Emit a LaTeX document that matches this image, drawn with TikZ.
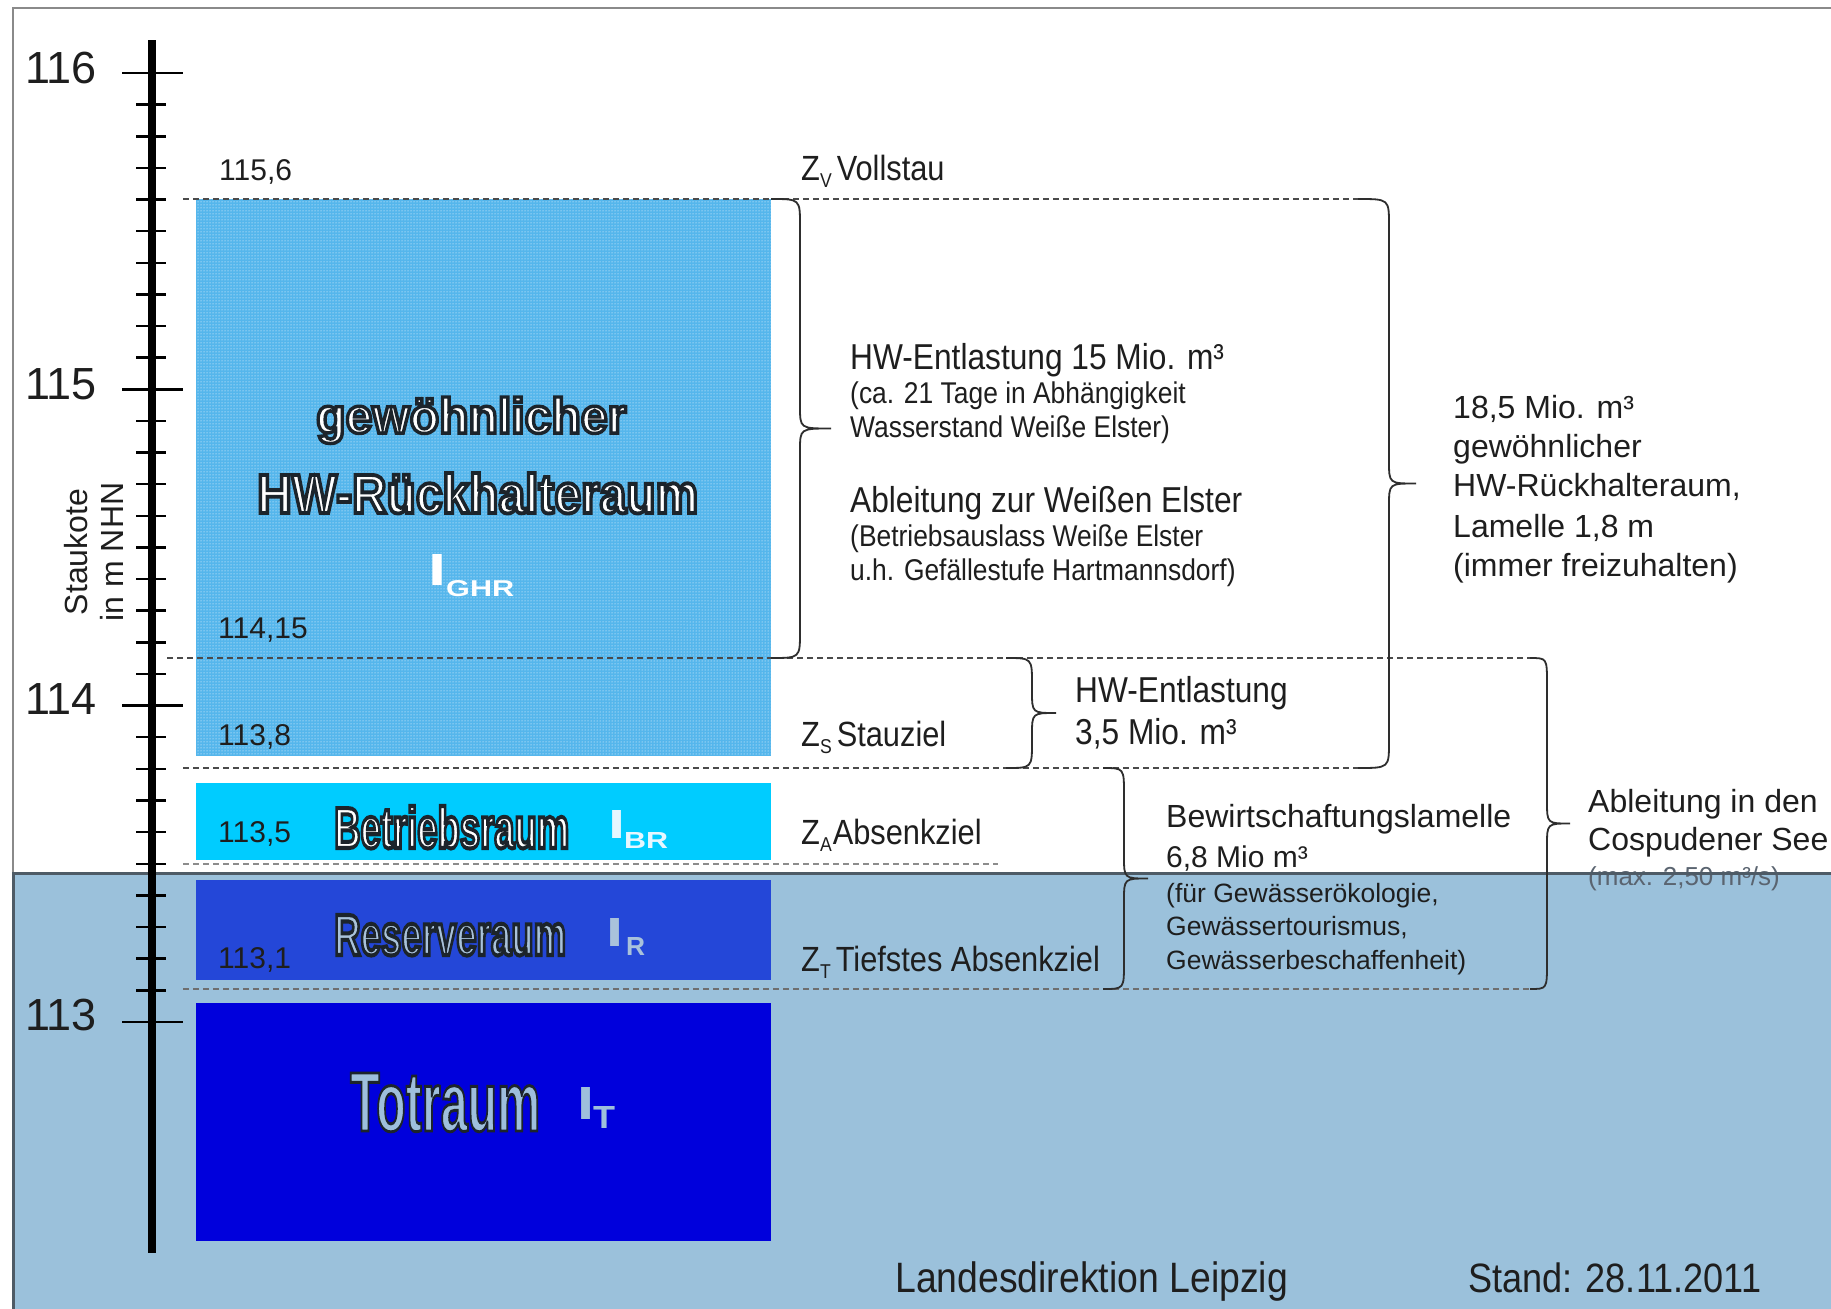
\documentclass[tikz,border=0pt]{standalone}
\usepackage{fontspec}
\setmainfont{Liberation Sans}
\newfontfamily\nar[FakeStretch=0.88]{Liberation Sans}
\newfontfamily\outf[FakeBold=7]{Liberation Sans}
\newfontfamily\outg[FakeBold=3.5]{Liberation Sans}
\usetikzlibrary{patterns}
\definecolor{txt}{HTML}{1E1E1E}
\definecolor{lowbg}{HTML}{9BC1DB}
\definecolor{lowedge}{HTML}{4E5B66}
\definecolor{framec}{HTML}{8A8A8A}
\definecolor{ghrc}{HTML}{55B6EC}
\definecolor{cBR}{HTML}{00CCFF}
\definecolor{cR}{HTML}{2447D8}
\definecolor{cT}{HTML}{0000DC}
\definecolor{pale}{HTML}{A9C2DB}
\definecolor{pale2}{HTML}{9EBFDC}
\definecolor{ibrc}{HTML}{E6F7FF}
\definecolor{dashc}{HTML}{4A4A4A}
\definecolor{dashl}{HTML}{8C8C8C}
\definecolor{bracec}{HTML}{2E2E2E}
\definecolor{maxc}{HTML}{5A6470}
\newcommand\fz[1]{\fontsize{#1}{#1}\selectfont}
% outlined label: fill colour from node text colour, stroke colour set by literal
\newcommand\olabel[4]{%
  \node[lab,text=#3] (#1) at (#2) {\special{pdf:literal direct 0.11 0.14 0.17 RG}#4};}
\newcommand\curlyb[5]{%
  \pgfmathsetmacro\ymid{(#4+#5)/2}
  \draw[bline] (#1,#4) .. controls (#2,#4) .. (#2,#4+26) -- (#2,\ymid-22)
    .. controls (#2,\ymid) .. (#3,\ymid) .. controls (#2,\ymid) .. (#2,\ymid+22)
    -- (#2,#5-26) .. controls (#2,#5) .. (#1,#5);}
\begin{document}
\begin{tikzpicture}[x=1pt,y=-1pt,
  tx/.style={inner sep=0pt, anchor=base west, text=txt},
  nr/.style={tx, font=\nar\fz{#1}},
  rg/.style={tx, font=\fz{#1}},
  lab/.style={inner sep=0pt, anchor=base west},
  dl/.style={dash pattern=on 6pt off 4pt, line width=1.8pt, draw=dashc},
  dll/.style={dl, draw=dashl},
  bline/.style={draw=bracec, line width=1.8pt},
  major/.style={line width=2.5pt, draw=black},
  minor/.style={line width=2.5pt, draw=black}]
\useasboundingbox (0,0) rectangle (1831,1309);
\fill[white] (0,0) rectangle (1831,1309);
% frame
\draw[framec, line width=1.5pt] (13,873) -- (13,8) -- (1831,8);
% lower region
\fill[lowbg] (13,873) rectangle (1831,1309);
\draw[lowedge, line width=3pt] (1831,873) -- (13,873) -- (13,1309);
% storage boxes
\fill[ghrc] (196,199) rectangle (771,756);
\fill[pattern=dots, pattern color=white] (196,199) rectangle (771,756);
\fill[cBR] (196,783) rectangle (771,860);
\fill[cR] (196,880) rectangle (771,980);
\fill[cT] (196,1003) rectangle (771,1241);
% axis
\draw[line width=8pt] (152,40) -- (152,1253);
\foreach \i in {0,...,30} {
  \pgfmathsetmacro\yy{73+\i*31.63}
  \draw[minor] (136,\yy) -- (166,\yy);
}
\foreach \i in {0,10,20,30} {
  \pgfmathsetmacro\yy{73+\i*31.63}
  \draw[major] (122,\yy) -- (183,\yy);
}
\node[rg=45] (n116) at (25,83) {116};
\node[rg=45] (n115) at (25,399) {115};
\node[rg=45] (n114) at (25,714) {114};
\node[rg=45] (n113) at (25,1030) {113};
\node[inner sep=0pt, text=txt, font=\fontsize{32}{36}\selectfont, align=center, rotate=90] (stk) at (94,552) {Staukote\\in m NHN};
% level lines
\draw[dl] (183,199) -- (1360,199);
\draw[dl] (167,658) -- (1530,658);
\draw[dl] (183,768) -- (1360,768);
\draw[dll] (183,864) -- (998,864);
\draw[dl, draw=dashc!80] (183,989) -- (1530,989);
% braces
\curlyb{771}{800}{831}{199}{658}
\curlyb{1358}{1389}{1416}{199}{768}
\curlyb{1006}{1032}{1056}{658}{768}
\curlyb{1103}{1124}{1148}{768}{989}
\curlyb{1530}{1547}{1570}{658}{989}
% level numbers
\node[rg=30] (v1156) at (219,180) {115,6};
\node[rg=30] (v11415) at (218,638) {114,15};
\node[rg=30] (v1138) at (218,745) {113,8};
\node[rg=30] (v1135) at (218,842) {113,5};
\node[rg=30] (v1131) at (218,968) {113,1};
% box labels
\olabel{gew}{316,433}{white}{\resizebox{310pt}{36pt}{\outf\bfseries gewöhnlicher}}
\olabel{hwr}{257,513}{white}{\resizebox{441pt}{40pt}{\outf\bfseries HW-Rückhalteraum}}
\olabel{bet}{334,848}{white}{\resizebox{235pt}{42pt}{\outf\bfseries Betriebsraum}}
\olabel{res}{334,955}{pale}{\resizebox{232pt}{40pt}{\outf\bfseries Reserveraum}}
\olabel{tot}{350,1131}{pale2}{\resizebox{190pt}{58pt}{\outg\bfseries Totraum}}
\node[lab,text=white] (igh) at (428,585) {\resizebox{18pt}{31pt}{\bfseries I}};
\node[lab,text=white] (ighs) at (446,596) {\resizebox{68pt}{16pt}{\bfseries GHR}};
\node[lab,text=ibrc] (ibr) at (608,838) {\resizebox{17pt}{28pt}{\bfseries I}};
\node[lab,text=ibrc] (ibrs) at (624,848) {\resizebox{44pt}{16pt}{\bfseries BR}};
\node[lab,text=pale] (ir) at (606,946) {\resizebox{17pt}{28pt}{\bfseries I}};
\node[lab,text=pale] (irs) at (626,955) {\resizebox{19pt}{18pt}{\bfseries R}};
\node[lab,text=pale2] (it) at (577,1119) {\resizebox{17pt}{32pt}{\bfseries I}};
\node[lab,text=pale2] (its) at (593,1128) {\resizebox{22pt}{22pt}{\bfseries T}};
% right-hand texts
\node[nr=35] (zv) at (801,180) {Z\raisebox{-7pt}{\fz{20}V}\hspace{5pt}Vollstau};
\node[nr=36] (hw15) at (850,369) {HW-Entlastung 15 Mio. m³};
\node[nr=30] (ca21) at (850,403) {(ca. 21 Tage in Abhängigkeit};
\node[nr=30] (wass) at (850,437) {Wasserstand Weiße Elster)};
\node[nr=36] (abl) at (850,512) {Ableitung zur Weißen Elster};
\node[nr=30] (betr) at (850,546) {(Betriebsauslass Weiße Elster};
\node[nr=30] (uh) at (850,580) {u.h. Gefällestufe Hartmannsdorf)};
\node[rg=32] (r1) at (1453,418) {18,5 Mio. m³};
\node[rg=32] (r2) at (1453,457) {gewöhnlicher};
\node[rg=32] (r3) at (1453,496) {HW-Rückhalteraum,};
\node[rg=32] (r4) at (1453,537) {Lamelle 1,8 m};
\node[rg=32] (r5) at (1453,576) {(immer freizuhalten)};
\node[nr=35] (zs) at (801,746) {Z\raisebox{-7pt}{\fz{20}S}\hspace{5pt}Stauziel};
\node[nr=36] (hw35a) at (1075,702) {HW-Entlastung};
\node[nr=36] (hw35b) at (1075,744) {3,5 Mio. m³};
\node[nr=35] (za) at (801,844) {Z\raisebox{-7pt}{\fz{20}A}\hspace{1pt}Absenkziel};
\node[nr=35] (zt) at (801,971) {Z\raisebox{-7pt}{\fz{20}T}\hspace{5pt}Tiefstes Absenkziel};
\node[rg=32] (bw1) at (1166,827) {Bewirtschaftungslamelle};
\node[rg=30] (bw2) at (1166,867) {6,8 Mio m³};
\node[rg=26.5] (bw3) at (1166,902) {(für Gewässerökologie,};
\node[rg=26.5] (bw4) at (1166,935) {Gewässertourismus,};
\node[rg=26.5] (bw5) at (1166,969) {Gewässerbeschaffenheit)};
\node[rg=32] (co1) at (1588,812) {Ableitung in den};
\node[rg=32] (co2) at (1588,850) {Cospudener See};
\node[rg=26, text=maxc] (co3) at (1588,885) {(max. 2,50 m³/s)};
\draw[lowedge, line width=3pt] (1575,873) -- (1831,873);
\node[nr=42.5] (ldl) at (895,1292) {Landesdirektion Leipzig};
\node[nr=41] (std) at (1468,1292) {Stand: 28.11.2011};
\end{tikzpicture}
\end{document}
